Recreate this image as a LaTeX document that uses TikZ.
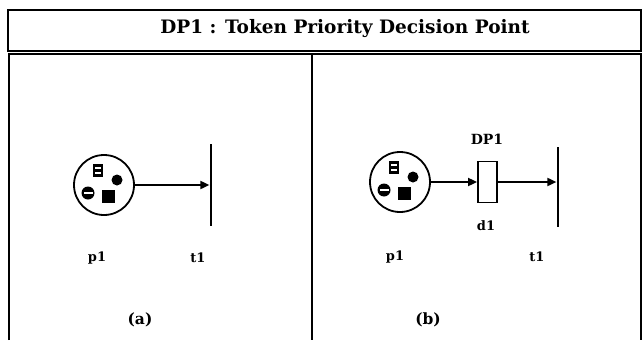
\documentclass[tikz,border=0pt]{standalone}
\usepackage{fontspec}
\setmainfont{DejaVu Serif}
\usetikzlibrary{arrows.meta}

\tikzset{
  place/.style={circle,draw,line width=1.8pt,minimum size=60pt,inner sep=0pt},
  trans/.style={rectangle,fill=black,minimum width=2.8pt,minimum height=82pt,inner sep=0pt},
  dpbox/.style={rectangle,draw,line width=1.8pt,minimum width=19pt,minimum height=41pt,inner sep=0pt},
  arc/.style={line width=1.8pt,-{Triangle[length=9pt,width=8pt]}},
  lbl/.style={font=\fontsize{13}{15}\selectfont\bfseries},
  panellbl/.style={font=\fontsize{15.5}{17}\selectfont\bfseries},
  frame/.style={line width=2.5pt},
  tokens/.pic={
    % square token with two bars
    \fill (-11,-21) rectangle (-1,-8);
    \fill[white] (-9,-18) rectangle (-3,-16.3);
    \fill[white] (-9,-13.2) rectangle (-3,-11.5);
    % round token
    \fill (13,-5) circle (5.5pt);
    % minus token
    \fill (-16,8) circle (6.5pt);
    \fill[white] (-20.5,7) rectangle (-11.5,9.2);
    % solid square token
    \fill (-2,5) rectangle (11,18);
  }
}

\begin{document}
\begin{tikzpicture}[x=1pt,y=-1pt]
  \useasboundingbox (0,0) rectangle (642,340);
  % title band
  \draw[frame] (8,10) rectangle (641,51);
  \node[font=\fontsize{18.5}{20}\selectfont\bfseries] (title) at (345,29) {DP1 : Token Priority Decision Point};
  % two panels
  \draw[frame] (9,340) -- (9,54) -- (641,54) -- (641,340);
  \draw[frame] (312,54) -- (312,340);

  % (a) place and transition
  \node[place] (p1a) at (104,185) {};
  \pic at (p1a.center) {tokens};
  \node[trans] (t1a) at (211,185) {};
  \draw[arc] (p1a) -- (t1a);
  \node[lbl] (p1alab) at (97,258) {p1};
  \node[lbl] (t1alab) at (198,258) {t1};
  \node[panellbl] (capa) at (140,320) {(a)};

  % (b) place, decision point, transition
  \node[place] (p1b) at (400,182) {};
  \pic at (p1b.center) {tokens};
  \node[dpbox] (d1) at (487.5,182) {};
  \node[trans,minimum height=80pt] (t1b) at (558,187) {};
  \draw[arc] (p1b) -- (d1);
  \draw[arc] (d1.east) -- (d1.east -| t1b.west);
  \node[font=\fontsize{14}{16}\selectfont\bfseries] (dp1lab) at (487,139) {DP1};
  \node[lbl] (d1lab) at (486,226) {d1};
  \node[lbl] (p1blab) at (395,257) {p1};
  \node[lbl] (t1blab) at (537,257) {t1};
  \node[panellbl] (capb) at (428,320) {(b)};
\end{tikzpicture}
\end{document}
